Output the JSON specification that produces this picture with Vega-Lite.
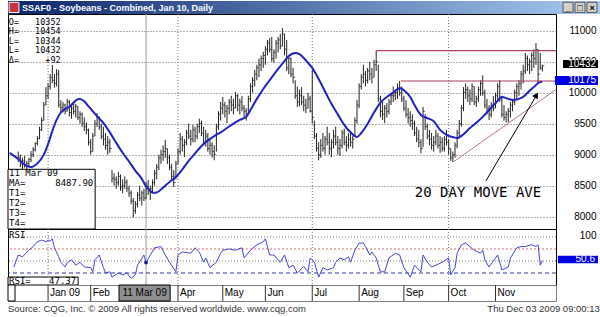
{
"$schema": "https://vega.github.io/schema/vega-lite/v6.json",
"background": "#ffffff",
"padding": {"left": 5, "top": 1, "right": 0, "bottom": 0},
"spacing": 0,
"bounds": "flush",
"config": {"view": {"stroke": "#000", "strokeWidth": 1}, "text": {"font": "Liberation Sans"}},
"datasets": {
"bars": [
{"t":-14,"h":9050,"l":8880,"c":8950},{"t":-13,"h":9000,"l":8800,"c":8850},{"t":-12,"h":8950,"l":8760,"c":8900},{"t":-11,"h":8980,"l":8790,"c":8820},{"t":-10,"h":8900,"l":8740,"c":8860},{"t":-9,"h":8950,"l":8800,"c":8920},{"t":-8,"h":9060,"l":8880,"c":9000},{"t":-7,"h":9120,"l":8960,"c":9080},{"t":-6,"h":9200,"l":9050,"c":9180},{"t":-5,"h":9300,"l":9150,"c":9260},{"t":-4,"h":9450,"l":9250,"c":9400},{"t":-3,"h":9600,"l":9380,"c":9550},{"t":-2,"h":9850,"l":9550,"c":9800},{"t":-1,"h":10090,"l":9800,"c":9950},
{"t":0,"h":10150,"l":9900,"c":10100},{"t":1,"h":10300,"l":10050,"c":10250},{"t":2,"h":10446,"l":10150,"c":10200},{"t":3,"h":10300,"l":10080,"c":10150},{"t":4,"h":10380,"l":10100,"c":10300},{"t":5,"h":10366,"l":9760,"c":9800},{"t":6,"h":9880,"l":9690,"c":9760},{"t":7,"h":9850,"l":9680,"c":9800},{"t":8,"h":9820,"l":9650,"c":9700},{"t":9,"h":9900,"l":9700,"c":9850},
{"t":10,"h":9880,"l":9620,"c":9680},{"t":11,"h":9800,"l":9580,"c":9750},{"t":12,"h":9860,"l":9650,"c":9700},{"t":13,"h":9820,"l":9600,"c":9780},{"t":14,"h":9780,"l":9560,"c":9600},{"t":15,"h":9700,"l":9500,"c":9650},{"t":16,"h":9680,"l":9450,"c":9500},{"t":17,"h":9600,"l":9380,"c":9450},{"t":18,"h":9520,"l":9330,"c":9400},{"t":19,"h":9420,"l":9150,"c":9200},
{"t":20,"h":9250,"l":9000,"c":9050},{"t":21,"h":9350,"l":9050,"c":9300},{"t":22,"h":9560,"l":9300,"c":9500},{"t":23,"h":9670,"l":9450,"c":9600},{"t":24,"h":9620,"l":9400,"c":9450},{"t":25,"h":9500,"l":9250,"c":9300},{"t":26,"h":9450,"l":9150,"c":9250},{"t":27,"h":9350,"l":9080,"c":9150},{"t":28,"h":9300,"l":9000,"c":9200},{"t":29,"h":9250,"l":9030,"c":9100},
{"t":30,"h":8750,"l":8550,"c":8620},{"t":31,"h":8700,"l":8500,"c":8600},{"t":32,"h":8650,"l":8450,"c":8550},{"t":33,"h":8720,"l":8500,"c":8650},{"t":34,"h":8680,"l":8420,"c":8480},{"t":35,"h":8600,"l":8380,"c":8500},{"t":36,"h":8650,"l":8450,"c":8550},{"t":37,"h":8600,"l":8400,"c":8450},{"t":38,"h":8500,"l":8320,"c":8380},{"t":39,"h":8420,"l":8200,"c":8250},
{"t":40,"h":8300,"l":7990,"c":8100},{"t":41,"h":8250,"l":8050,"c":8200},{"t":42,"h":8400,"l":8150,"c":8350},{"t":43,"h":8500,"l":8250,"c":8300},{"t":44,"h":8420,"l":8180,"c":8380},{"t":45,"h":8450,"l":8250,"c":8300},{"t":46,"h":8560,"l":8280,"c":8500},{"t":47,"h":8590,"l":8350,"c":8400},{"t":48,"h":8500,"l":8270,"c":8450},{"t":49,"h":8600,"l":8380,"c":8550},
{"t":50,"h":8750,"l":8500,"c":8700},{"t":51,"h":8850,"l":8600,"c":8800},{"t":52,"h":9000,"l":8750,"c":8950},{"t":53,"h":9080,"l":8850,"c":9000},{"t":54,"h":9150,"l":8900,"c":9050},{"t":55,"h":9240,"l":8950,"c":9100},{"t":56,"h":9100,"l":8850,"c":8950},{"t":57,"h":9000,"l":8750,"c":8800},{"t":58,"h":8850,"l":8600,"c":8650},{"t":59,"h":8750,"l":8480,"c":8550},
{"t":60,"h":8900,"l":8600,"c":8850},{"t":61,"h":9100,"l":8850,"c":9050},{"t":62,"h":9350,"l":9000,"c":9250},{"t":63,"h":9300,"l":9050,"c":9150},{"t":64,"h":9250,"l":8960,"c":9200},{"t":65,"h":9400,"l":9150,"c":9350},{"t":66,"h":9500,"l":9250,"c":9300},{"t":67,"h":9400,"l":9150,"c":9250},{"t":68,"h":9480,"l":9200,"c":9400},{"t":69,"h":9450,"l":9200,"c":9300},
{"t":70,"h":9500,"l":9250,"c":9450},{"t":71,"h":9580,"l":9350,"c":9500},{"t":72,"h":9550,"l":9300,"c":9350},{"t":73,"h":9450,"l":9150,"c":9200},{"t":74,"h":9400,"l":9130,"c":9300},{"t":75,"h":9350,"l":9050,"c":9100},{"t":76,"h":9250,"l":9000,"c":9150},{"t":77,"h":9200,"l":8950,"c":9050},{"t":78,"h":9150,"l":8910,"c":9000},{"t":79,"h":9500,"l":9050,"c":9450},
{"t":80,"h":9700,"l":9400,"c":9650},{"t":81,"h":9850,"l":9550,"c":9750},{"t":82,"h":9930,"l":9650,"c":9800},{"t":83,"h":9850,"l":9600,"c":9700},{"t":84,"h":9800,"l":9510,"c":9750},{"t":85,"h":9900,"l":9650,"c":9850},{"t":86,"h":9950,"l":9700,"c":9800},{"t":87,"h":9900,"l":9650,"c":9750},{"t":88,"h":10010,"l":9750,"c":9950},{"t":89,"h":9980,"l":9700,"c":9800},
{"t":90,"h":9900,"l":9650,"c":9850},{"t":91,"h":9950,"l":9700,"c":9750},{"t":92,"h":9800,"l":9600,"c":9700},{"t":93,"h":9750,"l":9550,"c":9650},{"t":94,"h":9950,"l":9650,"c":9900},{"t":95,"h":10150,"l":9850,"c":10100},{"t":96,"h":10250,"l":10000,"c":10200},{"t":97,"h":10370,"l":10100,"c":10300},{"t":98,"h":10450,"l":10200,"c":10400},{"t":99,"h":10550,"l":10250,"c":10450},
{"t":100,"h":10600,"l":10350,"c":10550},{"t":101,"h":10660,"l":10400,"c":10600},{"t":102,"h":10750,"l":10450,"c":10700},{"t":103,"h":10850,"l":10600,"c":10800},{"t":104,"h":10880,"l":10650,"c":10700},{"t":105,"h":10900,"l":10500,"c":10550},{"t":106,"h":10700,"l":10480,"c":10650},{"t":107,"h":10850,"l":10550,"c":10800},{"t":108,"h":10900,"l":10650,"c":10850},{"t":109,"h":10950,"l":10700,"c":10750},
{"t":110,"h":11040,"l":10750,"c":10950},{"t":111,"h":10950,"l":10600,"c":10700},{"t":112,"h":10850,"l":10350,"c":10400},{"t":113,"h":10600,"l":10300,"c":10550},{"t":114,"h":10570,"l":10250,"c":10300},{"t":115,"h":10400,"l":10150,"c":10250},{"t":116,"h":10200,"l":9900,"c":9950},{"t":117,"h":10100,"l":9770,"c":9850},{"t":118,"h":10050,"l":9780,"c":9950},{"t":119,"h":10090,"l":9800,"c":9850},
{"t":120,"h":9950,"l":9700,"c":9800},{"t":121,"h":9900,"l":9670,"c":9750},{"t":122,"h":10000,"l":9750,"c":9900},{"t":123,"h":9950,"l":9680,"c":9700},{"t":124,"h":10370,"l":9500,"c":9600},{"t":125,"h":9550,"l":9250,"c":9300},{"t":126,"h":9350,"l":9050,"c":9100},{"t":127,"h":9200,"l":8910,"c":9000},{"t":128,"h":9250,"l":8950,"c":9150},{"t":129,"h":9350,"l":9050,"c":9100},
{"t":130,"h":9300,"l":9000,"c":9250},{"t":131,"h":9450,"l":9150,"c":9200},{"t":132,"h":9350,"l":9000,"c":9100},{"t":133,"h":9250,"l":8960,"c":9200},{"t":134,"h":9400,"l":9100,"c":9300},{"t":135,"h":9450,"l":9150,"c":9200},{"t":136,"h":9300,"l":9000,"c":9100},{"t":137,"h":9250,"l":8980,"c":9150},{"t":138,"h":9400,"l":9100,"c":9350},{"t":139,"h":9420,"l":9150,"c":9200},
{"t":140,"h":9300,"l":9050,"c":9150},{"t":141,"h":9350,"l":9100,"c":9250},{"t":142,"h":9350,"l":9130,"c":9200},{"t":143,"h":9300,"l":9100,"c":9250},{"t":144,"h":9600,"l":9300,"c":9550},{"t":145,"h":9880,"l":9500,"c":9800},{"t":146,"h":10150,"l":9750,"c":10100},{"t":147,"h":10300,"l":10050,"c":10250},{"t":148,"h":10450,"l":10150,"c":10300},{"t":149,"h":10350,"l":10100,"c":10200},
{"t":150,"h":10400,"l":10150,"c":10350},{"t":151,"h":10500,"l":10200,"c":10300},{"t":152,"h":10400,"l":10150,"c":10250},{"t":153,"h":10530,"l":10250,"c":10450},{"t":154,"h":10677,"l":10350,"c":10500},{"t":155,"h":10450,"l":9850,"c":9900},{"t":156,"h":9950,"l":9600,"c":9700},{"t":157,"h":9850,"l":9560,"c":9650},{"t":158,"h":9800,"l":9510,"c":9750},{"t":159,"h":9830,"l":9600,"c":9700},
{"t":160,"h":9900,"l":9650,"c":9850},{"t":161,"h":10000,"l":9800,"c":9950},{"t":162,"h":10100,"l":9850,"c":9950},{"t":163,"h":10050,"l":9880,"c":10000},{"t":164,"h":10150,"l":9900,"c":10050},{"t":165,"h":10188,"l":9950,"c":10000},{"t":166,"h":10100,"l":9850,"c":9900},{"t":167,"h":9950,"l":9700,"c":9750},{"t":168,"h":9880,"l":9600,"c":9650},{"t":169,"h":9750,"l":9500,"c":9600},
{"t":170,"h":9700,"l":9450,"c":9550},{"t":171,"h":9650,"l":9400,"c":9500},{"t":172,"h":9550,"l":9300,"c":9350},{"t":173,"h":9450,"l":9200,"c":9250},{"t":174,"h":9400,"l":9120,"c":9200},{"t":175,"h":9250,"l":9020,"c":9100},{"t":176,"h":9770,"l":9120,"c":9700},{"t":177,"h":9650,"l":9400,"c":9450},{"t":178,"h":9500,"l":9250,"c":9300},{"t":179,"h":9400,"l":9150,"c":9250},
{"t":180,"h":9350,"l":9080,"c":9150},{"t":181,"h":9300,"l":9050,"c":9200},{"t":182,"h":9400,"l":9150,"c":9300},{"t":183,"h":9350,"l":9100,"c":9150},{"t":184,"h":9300,"l":9030,"c":9200},{"t":185,"h":9280,"l":9050,"c":9100},{"t":186,"h":9300,"l":9050,"c":9250},{"t":187,"h":9400,"l":9150,"c":9200},{"t":188,"h":9250,"l":9000,"c":9100},{"t":189,"h":9100,"l":8900,"c":8950},
{"t":190,"h":9050,"l":8880,"c":9000},{"t":191,"h":9200,"l":8950,"c":9150},{"t":192,"h":9400,"l":9100,"c":9350},{"t":193,"h":9560,"l":9300,"c":9500},{"t":194,"h":9800,"l":9450,"c":9750},{"t":195,"h":10090,"l":9700,"c":10000},{"t":196,"h":10150,"l":9900,"c":10050},{"t":197,"h":10100,"l":9850,"c":9950},{"t":198,"h":10050,"l":9800,"c":9900},{"t":199,"h":10150,"l":9850,"c":10100},
{"t":200,"h":10100,"l":9800,"c":9850},{"t":201,"h":9950,"l":9770,"c":9900},{"t":202,"h":10100,"l":9850,"c":10050},{"t":203,"h":10200,"l":9950,"c":10150},{"t":204,"h":10280,"l":9950,"c":10000},{"t":205,"h":10050,"l":9750,"c":9800},{"t":206,"h":9900,"l":9650,"c":9750},{"t":207,"h":9800,"l":9560,"c":9650},{"t":208,"h":9850,"l":9600,"c":9800},{"t":209,"h":9950,"l":9700,"c":9750},
{"t":210,"h":10000,"l":9750,"c":9950},{"t":211,"h":10150,"l":9900,"c":10100},{"t":212,"h":10200,"l":9850,"c":9900},{"t":213,"h":9950,"l":9600,"c":9650},{"t":214,"h":9800,"l":9550,"c":9600},{"t":215,"h":9700,"l":9520,"c":9650},{"t":216,"h":9750,"l":9520,"c":9700},{"t":217,"h":9850,"l":9600,"c":9800},{"t":218,"h":9900,"l":9700,"c":9850},{"t":219,"h":10050,"l":9800,"c":10000},
{"t":220,"h":10150,"l":9900,"c":10100},{"t":221,"h":10200,"l":9950,"c":10150},{"t":222,"h":10350,"l":10050,"c":10300},{"t":223,"h":10450,"l":10150,"c":10350},{"t":224,"h":10640,"l":10300,"c":10550},{"t":225,"h":10600,"l":10350,"c":10450},{"t":226,"h":10550,"l":10300,"c":10500},{"t":227,"h":10650,"l":10350,"c":10600},{"t":228,"h":10700,"l":10400,"c":10550},{"t":229,"h":10800,"l":10450,"c":10700},
{"t":230,"h":10700,"l":10150,"c":10300},{"t":231,"h":10640,"l":10370,"c":10400},{"t":232,"h":10454,"l":10344,"c":10432}
],
"ma": [
{"t":-18,"p":9030},{"t":-14,"p":8930},{"t":-11,"p":8840},{"t":-8,"p":8800},{"t":-5,"p":8860},{"t":-2,"p":9000},{"t":0,"p":9170},{"t":2,"p":9380},{"t":4,"p":9560},{"t":6,"p":9680},{"t":8,"p":9740},{"t":10,"p":9770},{"t":12,"p":9840},{"t":14,"p":9895},{"t":15,"p":9898},{"t":17,"p":9860},{"t":19,"p":9780},{"t":21,"p":9700},{"t":23,"p":9620},{"t":26,"p":9510},{"t":29,"p":9360},{"t":32,"p":9190},{"t":35,"p":9030},{"t":38,"p":8890},{"t":41,"p":8740},{"t":44,"p":8610},{"t":46,"p":8488},{"t":48,"p":8420},{"t":49,"p":8385},{"t":51,"p":8390},{"t":54,"p":8470},{"t":57,"p":8560},{"t":60,"p":8640},{"t":63,"p":8760},{"t":66,"p":8900},{"t":69,"p":9020},{"t":72,"p":9140},{"t":75,"p":9230},{"t":78,"p":9300},{"t":81,"p":9360},{"t":84,"p":9430},{"t":87,"p":9500},{"t":90,"p":9560},{"t":93,"p":9610},{"t":95,"p":9720},{"t":98,"p":9900},{"t":101,"p":10060},{"t":104,"p":10200},{"t":107,"p":10340},{"t":110,"p":10470},{"t":113,"p":10590},{"t":116,"p":10640},{"t":118,"p":10620},{"t":120,"p":10560},{"t":122,"p":10480},{"t":124,"p":10400},{"t":127,"p":10220},{"t":130,"p":10020},{"t":133,"p":9820},{"t":136,"p":9650},{"t":139,"p":9480},{"t":142,"p":9360},{"t":145,"p":9285},{"t":147,"p":9350},{"t":150,"p":9500},{"t":153,"p":9680},{"t":156,"p":9840},{"t":159,"p":9930},{"t":162,"p":10000},{"t":165,"p":10076},{"t":167,"p":10040},{"t":170,"p":9930},{"t":172,"p":9800},{"t":175,"p":9640},{"t":178,"p":9590},{"t":181,"p":9540},{"t":184,"p":9400},{"t":187,"p":9320},{"t":190,"p":9285},{"t":192,"p":9269},{"t":195,"p":9330},{"t":198,"p":9430},{"t":201,"p":9515},{"t":204,"p":9610},{"t":207,"p":9720},{"t":210,"p":9830},{"t":213,"p":9930},{"t":216,"p":9900},{"t":218,"p":9882},{"t":221,"p":9900},{"t":223,"p":9931},{"t":226,"p":10030},{"t":228,"p":10090},{"t":231,"p":10173},{"t":232,"p":10175}
],
"rsi": [
{"t":-16,"r":40},{"t":-14,"r":60},{"t":-12,"r":57},{"t":-9,"r":68},{"t":-7,"r":74},{"t":-5,"r":82},{"t":-3,"r":85},{"t":-1,"r":82},{"t":0,"r":85},{"t":1,"r":83},{"t":2,"r":87},{"t":3,"r":72},{"t":5,"r":57},{"t":6,"r":48},{"t":8,"r":40},{"t":9,"r":47},{"t":11,"r":52},{"t":13,"r":43},{"t":15,"r":48},{"t":17,"r":40},{"t":20,"r":39},{"t":21,"r":32},{"t":22,"r":52},{"t":24,"r":60},{"t":26,"r":39},{"t":27,"r":30},{"t":29,"r":32},{"t":30,"r":23},{"t":33,"r":30},{"t":35,"r":27},{"t":37,"r":30},{"t":39,"r":21},{"t":41,"r":27},{"t":42,"r":43},{"t":45,"r":60},{"t":46,"r":47.37},{"t":48,"r":60},{"t":50,"r":72},{"t":53,"r":74},{"t":55,"r":60},{"t":57,"r":48},{"t":60,"r":32},{"t":61,"r":60},{"t":63,"r":65},{"t":67,"r":63},{"t":69,"r":72},{"t":71,"r":65},{"t":73,"r":48},{"t":74,"r":55},{"t":76,"r":39},{"t":79,"r":48},{"t":81,"r":63},{"t":82,"r":68},{"t":85,"r":70},{"t":88,"r":68},{"t":91,"r":72},{"t":92,"r":55},{"t":95,"r":68},{"t":98,"r":77},{"t":101,"r":82},{"t":102,"r":87},{"t":104,"r":60},{"t":106,"r":60},{"t":109,"r":48},{"t":111,"r":60},{"t":113,"r":39},{"t":115,"r":43},{"t":117,"r":30},{"t":120,"r":41},{"t":122,"r":32},{"t":123,"r":55},{"t":125,"r":48},{"t":127,"r":23},{"t":129,"r":39},{"t":131,"r":35},{"t":134,"r":39},{"t":135,"r":48},{"t":137,"r":55},{"t":139,"r":52},{"t":141,"r":57},{"t":142,"r":48},{"t":144,"r":68},{"t":146,"r":80},{"t":148,"r":80},{"t":149,"r":74},{"t":151,"r":60},{"t":152,"r":65},{"t":154,"r":55},{"t":156,"r":32},{"t":158,"r":32},{"t":160,"r":55},{"t":163,"r":63},{"t":165,"r":60},{"t":167,"r":39},{"t":170,"r":23},{"t":172,"r":43},{"t":175,"r":32},{"t":176,"r":60},{"t":178,"r":48},{"t":180,"r":40},{"t":182,"r":43},{"t":185,"r":48},{"t":188,"r":55},{"t":189,"r":27},{"t":191,"r":39},{"t":192,"r":63},{"t":194,"r":77},{"t":196,"r":80},{"t":198,"r":74},{"t":200,"r":68},{"t":203,"r":63},{"t":204,"r":68},{"t":205,"r":52},{"t":207,"r":40},{"t":210,"r":55},{"t":211,"r":60},{"t":213,"r":35},{"t":216,"r":40},{"t":217,"r":55},{"t":220,"r":72},{"t":222,"r":74},{"t":224,"r":74},{"t":227,"r":77},{"t":229,"r":74},{"t":230,"r":77},{"t":231,"r":43},{"t":232,"r":50.6}
],
"quarters": [{"t":0},{"t":61},{"t":124},{"t":188}],
"months": [{"t":0,"m":"Jan 09"},{"t":20,"m":"Feb"},{"t":61,"m":"Apr"},{"t":82,"m":"May"},{"t":102,"m":"Jun"},{"t":124,"m":"Jul"},{"t":146,"m":"Aug"},{"t":167,"m":"Sep"},{"t":188,"m":"Oct"},{"t":210,"m":"Nov"}]
},
"vconcat": [
{
"width": 548, "height": 13,
"view": {"stroke": null},
"layer": [
{"data": {"values": [{"a":0,"b":1.082,"c":0,"d":1}]},
 "mark": {"type":"rect","fill":{"gradient":"linear","stops":[{"offset":0,"color":"#0a246a"},{"offset":1,"color":"#a6caf0"}]}},
 "encoding": {"x":{"field":"a","type":"quantitative","scale":{"domain":[0,1],"nice":false},"axis":null},"x2":{"field":"b"},"y":{"field":"c","type":"quantitative","scale":{"domain":[0,1],"nice":false},"axis":null},"y2":{"field":"d"}}},
{"data": {"values": [{"a":0.002,"b":0.02,"c":0.12,"d":0.9}]},
 "mark": {"type":"rect","fill":"#c8323c","stroke":"#ffffff","strokeWidth":1},
 "encoding": {"x":{"field":"a","type":"quantitative","scale":{"domain":[0,1],"nice":false},"axis":null},"x2":{"field":"b"},"y":{"field":"c","type":"quantitative","scale":{"domain":[0,1],"nice":false},"axis":null},"y2":{"field":"d"}}},
{"data": {"values": [{"a":0.0255,"c":0.5,"s":"SSAF0 - Soybeans - Combined, Jan 10, Daily"}]},
 "mark": {"type":"text","align":"left","baseline":"middle","fill":"#ffffff","fontWeight":"bold","fontSize":9,"font":"Liberation Sans"},
 "encoding": {"x":{"field":"a","type":"quantitative","scale":{"domain":[0,1],"nice":false},"axis":null},"y":{"field":"c","type":"quantitative","scale":{"domain":[0,1],"nice":false},"axis":null},"text":{"field":"s"}}},
{"data": {"values": [{"a":1.0128,"b":1.031,"m":1.0219,"g":"_"},{"a":1.0347,"b":1.0529,"m":1.0438,"g":"□"},{"a":1.0566,"b":1.0748,"m":1.0657,"g":"×"}]},
 "layer": [
  {"mark": {"type":"rect","fill":"#d4d0c8","stroke":"#404040","strokeWidth":0.8},
   "encoding": {"x":{"field":"a","type":"quantitative","scale":{"domain":[0,1],"nice":false},"axis":null},"x2":{"field":"b"},"y":{"datum":0.12,"type":"quantitative","scale":{"domain":[0,1],"nice":false},"axis":null},"y2":{"datum":0.9}}},
  {"mark": {"type":"text","align":"center","baseline":"middle","fill":"#000000","fontSize":9,"fontWeight":"bold"},
   "encoding": {"x":{"field":"m","type":"quantitative","scale":{"domain":[0,1],"nice":false},"axis":null},"y":{"datum":0.5,"type":"quantitative","scale":{"domain":[0,1],"nice":false},"axis":null},"text":{"field":"g"}}}
 ]}
]
},
{
"width": 548, "height": 215,
"resolve": {"axis": {"y": "independent", "x": "independent"}},
"layer": [
{"data": {"name": "quarters"},
 "mark": {"type":"rule","color":"#777777","strokeDash":[1,2],"strokeWidth":1},
 "encoding": {"x":{"field":"t","type":"quantitative","scale":{"domain":[-18.8,238.4],"nice":false,"zero":false},"axis":null}}},
{"data": {"values": [{"t":46}]},
 "mark": {"type":"rule","color":"#a0a0a0","strokeWidth":1},
 "encoding": {"x":{"field":"t","type":"quantitative","scale":{"domain":[-18.8,238.4],"nice":false,"zero":false},"axis":null}}},
{"data": {"name": "bars"},
 "mark": {"type":"rule","color":"#222222","strokeWidth":1},
 "encoding": {"x":{"field":"t","type":"quantitative","scale":{"domain":[-18.8,238.4],"nice":false,"zero":false},"axis":null},
  "y":{"field":"h","type":"quantitative","scale":{"domain":[7801,11269],"nice":false,"zero":false},
   "axis":{"orient":"right","values":[8000,8500,9000,9500,10000,10500,11000],"format":"d","labelOverlap":false,"title":null,"domain":false,"ticks":false,"tickSize":0,"labelPadding":40,"labelAlign":"right","labelBaseline":"middle","labelFont":"Liberation Sans","labelFontSize":10,"labelColor":"#000000","grid":true,"gridColor":"#666666","gridDash":[1,2],"gridOpacity":1}},
  "y2":{"field":"l"}}},
{"data": {"name": "bars"},
 "mark": {"type":"tick","orient":"horizontal","color":"#222222","size":2,"thickness":1,"xOffset":1},
 "encoding": {"x":{"field":"t","type":"quantitative","scale":{"domain":[-18.8,238.4],"nice":false,"zero":false},"axis":null},
  "y":{"field":"c","type":"quantitative","scale":{"domain":[7801,11269],"nice":false,"zero":false},"axis":null}}},
{"data": {"name": "ma"},
 "mark": {"type":"line","color":"#2222c0","strokeWidth":2,"interpolate":"monotone"},
 "encoding": {"x":{"field":"t","type":"quantitative","scale":{"domain":[-18.8,238.4],"nice":false,"zero":false},"axis":null},
  "y":{"field":"p","type":"quantitative","scale":{"domain":[7801,11269],"nice":false,"zero":false},"axis":null}}},
{"data": {"values": [{"t":154,"t2":238.4,"p":10677},{"t":165.6,"t2":238.4,"p":10188}]},
 "mark": {"type":"rule","color":"#a8405e","strokeWidth":1.2},
 "encoding": {"x":{"field":"t","type":"quantitative","scale":{"domain":[-18.8,238.4],"nice":false,"zero":false},"axis":null},"x2":{"field":"t2"},
  "y":{"field":"p","type":"quantitative","scale":{"domain":[7801,11269],"nice":false,"zero":false},"axis":null}}},
{"data": {"values": [{"t":190.5,"p":8890,"t2":238.4,"p2":10050}]},
 "mark": {"type":"rule","color":"#b87878","strokeWidth":1},
 "encoding": {"x":{"field":"t","type":"quantitative","scale":{"domain":[-18.8,238.4],"nice":false,"zero":false},"axis":null},"x2":{"field":"t2"},
  "y":{"field":"p","type":"quantitative","scale":{"domain":[7801,11269],"nice":false,"zero":false},"axis":null},"y2":{"field":"p2"}}},
{"data": {"values": [{"t":205.5,"p":8576,"t2":229.3,"p2":9960}]},
 "mark": {"type":"rule","color":"#000000","strokeWidth":1},
 "encoding": {"x":{"field":"t","type":"quantitative","scale":{"domain":[-18.8,238.4],"nice":false,"zero":false},"axis":null},"x2":{"field":"t2"},
  "y":{"field":"p","type":"quantitative","scale":{"domain":[7801,11269],"nice":false,"zero":false},"axis":null},"y2":{"field":"p2"}}},
{"data": {"values": [{"t":229.2,"p":9960}]},
 "mark": {"type":"point","shape":"triangle-up","filled":true,"color":"#000000","size":45,"angle":30,"opacity":1},
 "encoding": {"x":{"field":"t","type":"quantitative","scale":{"domain":[-18.8,238.4],"nice":false,"zero":false},"axis":null},
  "y":{"field":"p","type":"quantitative","scale":{"domain":[7801,11269],"nice":false,"zero":false},"axis":null}}},
{"data": {"values": [{"t":201.8,"p":8379,"s":"20 DAY MOVE AVE"}]},
 "mark": {"type":"text","font":"DejaVu Sans Mono","fontSize":14,"align":"center","baseline":"middle","color":"#000000"},
 "encoding": {"x":{"field":"t","type":"quantitative","scale":{"domain":[-18.8,238.4],"nice":false,"zero":false},"axis":null},
  "y":{"field":"p","type":"quantitative","scale":{"domain":[7801,11269],"nice":false,"zero":false},"axis":null},"text":{"field":"s"}}},
{"data": {"values": [{"t":-18.4,"t2":5.9,"p":11140,"k":"O=","v":"10352"},{"t":-18.4,"t2":5.9,"p":10987,"k":"H=","v":"10454"},{"t":-18.4,"t2":5.9,"p":10834,"k":"L=","v":"10344"},{"t":-18.4,"t2":5.9,"p":10689,"k":"L=","v":"10432"},{"t":-18.4,"t2":5.9,"p":10535,"k":"Δ=","v":"+92"}]},
 "layer": [
  {"mark": {"type":"text","font":"DejaVu Sans Mono","fontSize":8.5,"align":"left","baseline":"middle","color":"#000000"},
   "encoding": {"x":{"field":"t","type":"quantitative","scale":{"domain":[-18.8,238.4],"nice":false,"zero":false},"axis":null},
    "y":{"field":"p","type":"quantitative","scale":{"domain":[7801,11269],"nice":false,"zero":false},"axis":null},"text":{"field":"k"}}},
  {"mark": {"type":"text","font":"DejaVu Sans Mono","fontSize":8.5,"align":"right","baseline":"middle","color":"#000000"},
   "encoding": {"x":{"field":"t2","type":"quantitative","scale":{"domain":[-18.8,238.4],"nice":false,"zero":false},"axis":null},
    "y":{"field":"p","type":"quantitative","scale":{"domain":[7801,11269],"nice":false,"zero":false},"axis":null},"text":{"field":"v"}}}
 ]},
{"data": {"values": [{"t":-18.8,"t2":22.1,"p":7801,"p2":8764}]},
 "mark": {"type":"rect","fill":"#ffffff","stroke":"#000000","strokeWidth":1},
 "encoding": {"x":{"field":"t","type":"quantitative","scale":{"domain":[-18.8,238.4],"nice":false,"zero":false},"axis":null},"x2":{"field":"t2"},
  "y":{"field":"p","type":"quantitative","scale":{"domain":[7801,11269],"nice":false,"zero":false},"axis":null},"y2":{"field":"p2"}}},
{"data": {"values": [{"t":-18.3,"t2":21.2,"p":8709,"k":"11 Mar 09","v":""},{"t":-18.3,"t2":21.2,"p":8538,"k":"MA=","v":"8487.90"},{"t":-18.3,"t2":21.2,"p":8377,"k":"T1=","v":""},{"t":-18.3,"t2":21.2,"p":8216,"k":"T2=","v":""},{"t":-18.3,"t2":21.2,"p":8055,"k":"T3=","v":""},{"t":-18.3,"t2":21.2,"p":7893,"k":"T4=","v":""}]},
 "layer": [
  {"mark": {"type":"text","font":"DejaVu Sans Mono","fontSize":9,"align":"left","baseline":"middle","color":"#000000"},
   "encoding": {"x":{"field":"t","type":"quantitative","scale":{"domain":[-18.8,238.4],"nice":false,"zero":false},"axis":null},
    "y":{"field":"p","type":"quantitative","scale":{"domain":[7801,11269],"nice":false,"zero":false},"axis":null},"text":{"field":"k"}}},
  {"mark": {"type":"text","font":"DejaVu Sans Mono","fontSize":9,"align":"right","baseline":"middle","color":"#000000"},
   "encoding": {"x":{"field":"t2","type":"quantitative","scale":{"domain":[-18.8,238.4],"nice":false,"zero":false},"axis":null},
    "y":{"field":"p","type":"quantitative","scale":{"domain":[7801,11269],"nice":false,"zero":false},"axis":null},"text":{"field":"v"}}}
 ]},
{"data": {"values": [{"t":241.7,"t2":258.1,"p":10398,"p2":10527}]},
 "mark": {"type":"rect","fill":"#000000"},
 "encoding": {"x":{"field":"t","type":"quantitative","scale":{"domain":[-18.8,238.4],"nice":false,"zero":false},"axis":null},"x2":{"field":"t2"},
  "y":{"field":"p","type":"quantitative","scale":{"domain":[7801,11269],"nice":false,"zero":false},"axis":null},"y2":{"field":"p2"}}},
{"data": {"values": [{"t":237.9,"t2":258.1,"p":10124,"p2":10269}]},
 "mark": {"type":"rect","fill":"#0000e6"},
 "encoding": {"x":{"field":"t","type":"quantitative","scale":{"domain":[-18.8,238.4],"nice":false,"zero":false},"axis":null},"x2":{"field":"t2"},
  "y":{"field":"p","type":"quantitative","scale":{"domain":[7801,11269],"nice":false,"zero":false},"axis":null},"y2":{"field":"p2"}}},
{"data": {"values": [{"t":257.2,"p":10463,"s":"10432"},{"t":257.2,"p":10197,"s":"10175"}]},
 "mark": {"type":"text","font":"Liberation Sans","fontSize":10,"align":"right","baseline":"middle","color":"#ffffff"},
 "encoding": {"x":{"field":"t","type":"quantitative","scale":{"domain":[-18.8,238.4],"nice":false,"zero":false},"axis":null},
  "y":{"field":"p","type":"quantitative","scale":{"domain":[7801,11269],"nice":false,"zero":false},"axis":null},"text":{"field":"s"}}}
]
},
{
"width": 548, "height": 56,
"resolve": {"axis": {"y": "independent", "x": "independent"}},
"layer": [
{"data": {"name": "quarters"},
 "mark": {"type":"rule","color":"#777777","strokeDash":[1,2],"strokeWidth":1},
 "encoding": {"x":{"field":"t","type":"quantitative","scale":{"domain":[-18.8,238.4],"nice":false,"zero":false},"axis":null}}},
{"data": {"values": [{"t":46}]},
 "mark": {"type":"rule","color":"#a0a0a0","strokeWidth":1},
 "encoding": {"x":{"field":"t","type":"quantitative","scale":{"domain":[-18.8,238.4],"nice":false,"zero":false},"axis":null}}},
{"data": {"values": [{"r":90},{"r":50}]},
 "mark": {"type":"rule","color":"#777777","strokeDash":[1,2],"strokeWidth":1},
 "encoding": {"y":{"field":"r","type":"quantitative","scale":{"domain":[10,103.3],"nice":false,"zero":false},
   "axis":{"orient":"right","values":[100],"format":"d","labelOverlap":false,"title":null,"domain":false,"ticks":false,"tickSize":0,"labelPadding":40,"labelAlign":"right","labelBaseline":"top","labelFont":"Liberation Sans","labelFontSize":10,"labelColor":"#000000","grid":false}}}},
{"data": {"values": [{"r":70}]},
 "mark": {"type":"rule","color":"#e07070","strokeDash":[2,2],"strokeWidth":1},
 "encoding": {"y":{"field":"r","type":"quantitative","scale":{"domain":[10,103.3],"nice":false,"zero":false},"axis":null}}},
{"data": {"values": [{"r":30}]},
 "mark": {"type":"rule","color":"#3030c0","strokeDash":[4,3],"strokeWidth":1},
 "encoding": {"y":{"field":"r","type":"quantitative","scale":{"domain":[10,103.3],"nice":false,"zero":false},"axis":null}}},
{"data": {"name": "rsi"},
 "mark": {"type":"line","color":"#4646d2","strokeWidth":1},
 "encoding": {"x":{"field":"t","type":"quantitative","scale":{"domain":[-18.8,238.4],"nice":false,"zero":false},"axis":null},
  "y":{"field":"r","type":"quantitative","scale":{"domain":[10,103.3],"nice":false,"zero":false},"axis":null}}},
{"data": {"values": [{"t":46,"r":47.37}]},
 "mark": {"type":"point","filled":true,"color":"#1a1aa0","size":14,"opacity":1},
 "encoding": {"x":{"field":"t","type":"quantitative","scale":{"domain":[-18.8,238.4],"nice":false,"zero":false},"axis":null},
  "y":{"field":"r","type":"quantitative","scale":{"domain":[10,103.3],"nice":false,"zero":false},"axis":null}}},
{"data": {"values": [{"t":-18.3,"r":93.3,"s":"RSI"}]},
 "mark": {"type":"text","font":"DejaVu Sans Mono","fontSize":9,"align":"left","baseline":"middle","color":"#000000"},
 "encoding": {"x":{"field":"t","type":"quantitative","scale":{"domain":[-18.8,238.4],"nice":false,"zero":false},"axis":null},
  "y":{"field":"r","type":"quantitative","scale":{"domain":[10,103.3],"nice":false,"zero":false},"axis":null},"text":{"field":"s"}}},
{"data": {"values": [{"t":-18.8,"t2":14.1,"r":10,"r2":23.3}]},
 "mark": {"type":"rect","fill":"#ffffff","stroke":"#000000","strokeWidth":1},
 "encoding": {"x":{"field":"t","type":"quantitative","scale":{"domain":[-18.8,238.4],"nice":false,"zero":false},"axis":null},"x2":{"field":"t2"},
  "y":{"field":"r","type":"quantitative","scale":{"domain":[10,103.3],"nice":false,"zero":false},"axis":null},"y2":{"field":"r2"}}},
{"data": {"values": [{"t":-18.3,"t2":13.2,"r":16.7,"k":"RSI=","v":"47.37"}]},
 "layer": [
  {"mark": {"type":"text","font":"DejaVu Sans Mono","fontSize":9,"align":"left","baseline":"middle","color":"#000000"},
   "encoding": {"x":{"field":"t","type":"quantitative","scale":{"domain":[-18.8,238.4],"nice":false,"zero":false},"axis":null},
    "y":{"field":"r","type":"quantitative","scale":{"domain":[10,103.3],"nice":false,"zero":false},"axis":null},"text":{"field":"k"}}},
  {"mark": {"type":"text","font":"DejaVu Sans Mono","fontSize":9,"align":"right","baseline":"middle","color":"#000000"},
   "encoding": {"x":{"field":"t2","type":"quantitative","scale":{"domain":[-18.8,238.4],"nice":false,"zero":false},"axis":null},
    "y":{"field":"r","type":"quantitative","scale":{"domain":[10,103.3],"nice":false,"zero":false},"axis":null},"text":{"field":"v"}}}
 ]},
{"data": {"values": [{"t":239.3,"t2":258.1,"r":46.2,"r2":58.8}]},
 "mark": {"type":"rect","fill":"#0000e6"},
 "encoding": {"x":{"field":"t","type":"quantitative","scale":{"domain":[-18.8,238.4],"nice":false,"zero":false},"axis":null},"x2":{"field":"t2"},
  "y":{"field":"r","type":"quantitative","scale":{"domain":[10,103.3],"nice":false,"zero":false},"axis":null},"y2":{"field":"r2"}}},
{"data": {"values": [{"t":256.7,"r":52.5,"s":"50.6"}]},
 "mark": {"type":"text","font":"Liberation Sans","fontSize":10,"align":"right","baseline":"middle","color":"#ffffff"},
 "encoding": {"x":{"field":"t","type":"quantitative","scale":{"domain":[-18.8,238.4],"nice":false,"zero":false},"axis":null},
  "y":{"field":"r","type":"quantitative","scale":{"domain":[10,103.3],"nice":false,"zero":false},"axis":null},"text":{"field":"s"}}}
]
},
{
"width": 548, "height": 16,
"view": {"stroke": "#808080"},
"layer": [
{"data": {"values": [{"t":-18.8,"t2":-15.5}]},
 "mark": {"type":"rect","fill":"#ffffff","stroke":"#000000","strokeWidth":1},
 "encoding": {"x":{"field":"t","type":"quantitative","scale":{"domain":[-18.8,238.4],"nice":false,"zero":false},"axis":null},"x2":{"field":"t2"}}},
{"data": {"name": "months"},
 "mark": {"type":"rule","color":"#333333","strokeWidth":1},
 "encoding": {"x":{"field":"t","type":"quantitative","scale":{"domain":[-18.8,238.4],"nice":false,"zero":false},"axis":null}}},
{"data": {"name": "months"},
 "mark": {"type":"text","font":"Liberation Sans","fontSize":10,"align":"left","baseline":"middle","dx":2,"color":"#000000"},
 "encoding": {"x":{"field":"t","type":"quantitative","scale":{"domain":[-18.8,238.4],"nice":false,"zero":false},"axis":null},"text":{"field":"m"}}},
{"data": {"values": [{"t":33.3,"t2":57.3}]},
 "mark": {"type":"rect","fill":"#909090","stroke":"#000000","strokeWidth":1},
 "encoding": {"x":{"field":"t","type":"quantitative","scale":{"domain":[-18.8,238.4],"nice":false,"zero":false},"axis":null},"x2":{"field":"t2"}}},
{"data": {"values": [{"t":45.3,"s":"11 Mar 09"}]},
 "mark": {"type":"text","font":"Liberation Sans","fontSize":10,"align":"center","baseline":"middle","color":"#000000"},
 "encoding": {"x":{"field":"t","type":"quantitative","scale":{"domain":[-18.8,238.4],"nice":false,"zero":false},"axis":null},"text":{"field":"s"}}}
]
},
{
"width": 548, "height": 15,
"view": {"stroke": null},
"data": {"values": [{"x":0,"a":"left","s":"Source: CQG, Inc. © 2009 All rights reserved worldwide. www.cqg.com"},{"x":1.08,"a":"right","s":"Thu Dec 03 2009 09:00:13"}]},
"layer": [
 {"transform": [{"filter": "datum.a == 'left'"}],
  "mark": {"type":"text","font":"Liberation Sans","fontSize":9.5,"align":"left","baseline":"middle","color":"#333333"},
  "encoding": {"x":{"field":"x","type":"quantitative","scale":{"domain":[0,1],"nice":false},"axis":null},"text":{"field":"s"}}},
 {"transform": [{"filter": "datum.a == 'right'"}],
  "mark": {"type":"text","font":"Liberation Sans","fontSize":9.5,"align":"right","baseline":"middle","color":"#333333"},
  "encoding": {"x":{"field":"x","type":"quantitative","scale":{"domain":[0,1],"nice":false},"axis":null},"text":{"field":"s"}}}
]
}
]
}
